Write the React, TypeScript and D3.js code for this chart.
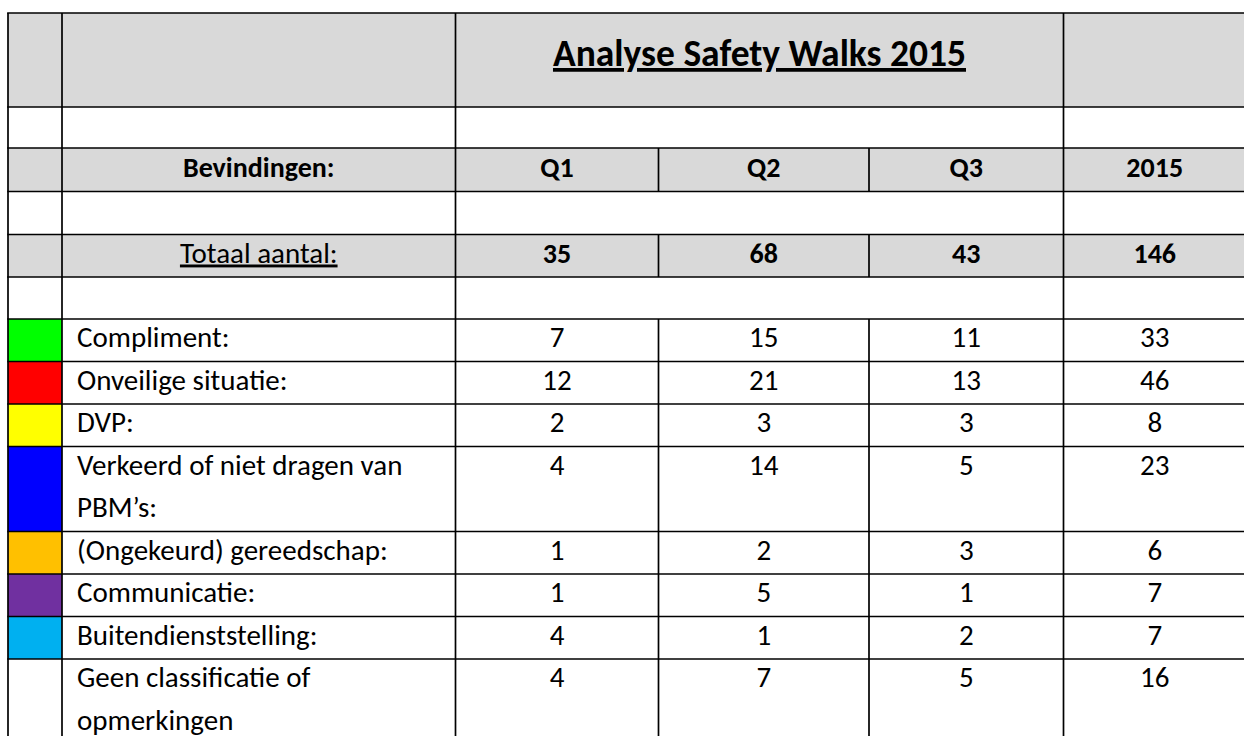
import React from "react";
import * as d3 from "d3";

// ---- data ----
const title = "Analyse Safety Walks 2015";
const headerLabel = "Bevindingen:";
const columnLabels = ["Q1", "Q2", "Q3", "2015"];
const totalLabel = "Totaal aantal:";
const totals = [35, 68, 43, 146];
const categories: string[][] = [
  ["Compliment:"],
  ["Onveilige situatie:"],
  ["DVP:"],
  ["Verkeerd of niet dragen van", "PBM\u2019s:"],
  ["(Ongekeurd) gereedschap:"],
  ["Communicatie:"],
  ["Buitendienststelling:"],
  ["Geen classificatie of", "opmerkingen"],
];
const q1 = [7, 12, 2, 4, 1, 1, 4, 4];
const q2 = [15, 21, 3, 14, 2, 5, 1, 7];
const q3 = [11, 13, 3, 5, 3, 1, 2, 5];
const year2015 = [33, 46, 8, 23, 6, 7, 7, 16];
const categoryColors = ["#00ff00", "#ff0000", "#ffff00", "#0000ff", "#ffc000", "#7030a0", "#00b0f0", "#ffffff"];

// ---- layout ----
const W = 1244;
const H = 736;
const FONT = "Carlito, Lato, 'Open Sans', sans-serif";
const GRAY = "#d9d9d9";
const LINE_H = 42.5;
const SW = 1.7;
const BODY_FS = 29;
const BOLD_FS = 28;
const TITLE_FS = 37.5;

// column edges
const colEdges = [8, 62, 455.5, 658.5, 869, 1063.5, 1246];
const colKeys = ["swatch", "label", "q1", "q2", "q3", "y"];
const xLeft = d3.scaleOrdinal<string, number>().domain(colKeys).range(colEdges.slice(0, 6));
const xRight = d3.scaleOrdinal<string, number>().domain(colKeys).range(colEdges.slice(1));
const xMid = (k: string) => (xLeft(k) + xRight(k)) / 2;

type Row = { kind: string; h: number; idx?: number };
const rows: Row[] = [
  { kind: "title", h: 94 },
  { kind: "blank", h: 41 },
  { kind: "header", h: 43.5 },
  { kind: "blank", h: 43 },
  { kind: "total", h: 42.5 },
  { kind: "blank", h: 42 },
  ...categories.map((c, i) => ({ kind: "data", h: c.length * LINE_H, idx: i })),
];
const TOP = 13;
const rowTops = [TOP, ...d3.cumsum(rows.map((r) => r.h)).map((v) => TOP + v)];

export default function App() {
  const valueCols = ["q1", "q2", "q3", "y"];
  const seriesData = [q1, q2, q3, year2015];
  const fills: JSX.Element[] = [];
  const lines: JSX.Element[] = [];
  const texts: JSX.Element[] = [];

  rows.forEach((r, i) => {
    const y0 = rowTops[i];
    const y1 = rowTops[i + 1];
    if (r.kind === "title" || r.kind === "header" || r.kind === "total") {
      fills.push(<rect key={`f${i}`} x={colEdges[0]} y={y0} width={colEdges[6] - colEdges[0]} height={y1 - y0} fill={GRAY} />);
    }
    if (r.kind === "data") {
      fills.push(
        <rect key={`c${i}`} x={xLeft("swatch")} y={y0} width={xRight("swatch") - xLeft("swatch")} height={y1 - y0} fill={categoryColors[r.idx!]} />
      );
    }
    const vx = [colEdges[0], colEdges[1], colEdges[2], colEdges[5]];
    if (r.kind === "header" || r.kind === "total" || r.kind === "data") vx.push(colEdges[3], colEdges[4]);
    vx.forEach((x, j) => lines.push(<line key={`v${i}-${j}`} x1={x} x2={x} y1={y0} y2={y1} stroke="#000" strokeWidth={SW} />));

    if (r.kind === "title") {
      texts.push(
        <text key="title" x={(colEdges[2] + colEdges[5]) / 2} y={y0 + 53} textAnchor="middle" fontWeight="bold" fontSize={TITLE_FS} textDecoration="underline">
          {title}
        </text>
      );
    }
    if (r.kind === "header") {
      texts.push(
        <text key="hl" x={xMid("label")} y={y0 + 29} textAnchor="middle" fontWeight="bold" fontSize={BOLD_FS}>
          {headerLabel}
        </text>
      );
      valueCols.forEach((k, j) =>
        texts.push(
          <text key={`h${j}`} x={xMid(k)} y={y0 + 29} textAnchor="middle" fontWeight="bold" fontSize={BOLD_FS}>
            {columnLabels[j]}
          </text>
        )
      );
    }
    if (r.kind === "total") {
      texts.push(
        <text key="tl" x={xMid("label")} y={y0 + 28} textAnchor="middle" fontSize={BODY_FS} textDecoration="underline">
          {totalLabel}
        </text>
      );
      valueCols.forEach((k, j) =>
        texts.push(
          <text key={`t${j}`} x={xMid(k)} y={y0 + 28} textAnchor="middle" fontWeight="bold" fontSize={BOLD_FS}>
            {totals[j]}
          </text>
        )
      );
    }
    if (r.kind === "data") {
      const ci = r.idx!;
      categories[ci].forEach((ln, li) =>
        texts.push(
          <text key={`l${ci}-${li}`} x={xLeft("label") + 15} y={y0 + 28 + li * LINE_H} fontSize={BODY_FS}>
            {ln}
          </text>
        )
      );
      valueCols.forEach((k, j) =>
        texts.push(
          <text key={`d${ci}-${j}`} x={xMid(k)} y={y0 + 28} textAnchor="middle" fontSize={BODY_FS}>
            {seriesData[j][ci]}
          </text>
        )
      );
    }
  });

  rowTops.forEach((y, i) =>
    lines.push(<line key={`h${i}`} x1={colEdges[0] - SW / 2} x2={colEdges[6]} y1={y} y2={y} stroke="#000" strokeWidth={SW} />)
  );

  return (
    <svg width={W} height={H} style={{ position: "absolute", left: 0, top: 0, background: "#fff" }} fontFamily={FONT} fill="#000">
      {fills}
      {texts}
      {lines}
    </svg>
  );
}
